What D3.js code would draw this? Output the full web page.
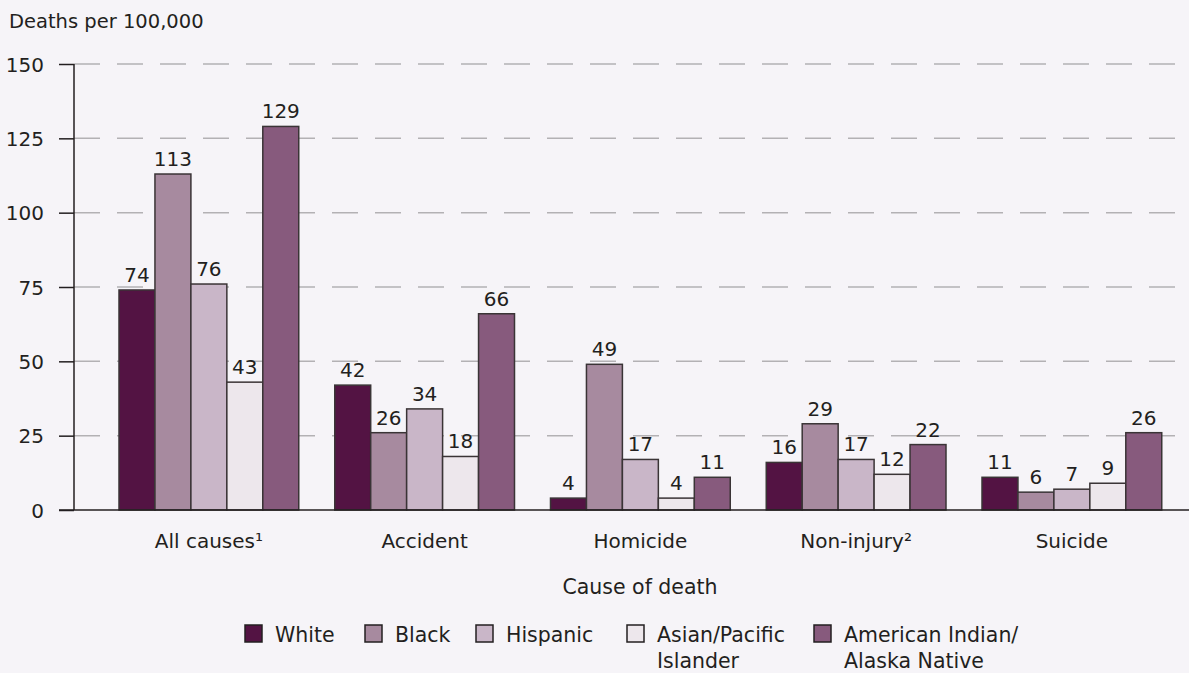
<!DOCTYPE html>
<html>
<head>
<meta charset="utf-8">
<script src="https://cdn.jsdelivr.net/npm/d3@7"></script>
<style>
  html, body { margin: 0; padding: 0; background: #f6f4f8; }
  svg { display: block; font-family: "DejaVu Sans", sans-serif; }
</style>
</head>
<body>
<svg id="chart" width="1189" height="673"></svg>
<script>
const categories = ["All causes\u00B9", "Accident", "Homicide", "Non-injury\u00B2", "Suicide"];
const seriesNames = ["White", "Black", "Hispanic", "Asian/Pacific Islander", "American Indian/Alaska Native"];
const legendLines = [["White"], ["Black"], ["Hispanic"], ["Asian/Pacific", "Islander"], ["American Indian/", "Alaska Native"]];
const white    = [74, 42, 4, 16, 11];
const black    = [113, 26, 49, 29, 6];
const hispanic = [76, 34, 17, 17, 7];
const asianPI  = [43, 18, 4, 12, 9];
const aian     = [129, 66, 11, 22, 26];
const yTicks = [0, 25, 50, 75, 100, 125, 150];
const colors = ["#531343", "#a78a9f", "#c9b6c8", "#ede7ec", "#875a7d"];

const series = [white, black, hispanic, asianPI, aian];

const svg = d3.select("#chart");
const W = 1189;
const axisX = 74;

const y = d3.scaleLinear().domain([0, 150]).range([510, 64]);
const pi = 36 / 215.75;
const x0 = d3.scaleBand().domain(categories).range([101, 101 + 5 * 215.75]).paddingInner(pi).paddingOuter(pi / 2);
const x1 = d3.scaleBand().domain(d3.range(series.length)).range([0, x0.bandwidth()]);

// gridlines
svg.append("g").selectAll("line").data(yTicks.filter(d => d > 0)).join("line")
  .attr("x1", axisX).attr("x2", W)
  .attr("y1", d => y(d)).attr("y2", d => y(d))
  .attr("stroke", "#b3b1b4").attr("stroke-width", 1.5)
  .attr("stroke-dasharray", "26,17");

// y axis
const yAxis = d3.axisLeft(y).tickValues(yTicks).tickSize(15).tickPadding(15);
const gy = svg.append("g").attr("transform", `translate(${axisX},0)`).call(yAxis);
gy.select(".domain").attr("stroke", "#231f20").attr("stroke-width", 1.5).attr("d", `M0,${y(150)}V${y(0)}`);
gy.selectAll(".tick line").attr("stroke", "#231f20").attr("stroke-width", 1.5);
gy.selectAll(".tick text").attr("font-size", 20).attr("fill", "#231f20")
  .attr("font-family", "DejaVu Sans, sans-serif").attr("dy", "0.35em");

// bars
const groups = svg.append("g").selectAll("g").data(categories).join("g")
  .attr("transform", d => `translate(${x0(d)},0)`);

groups.selectAll("rect").data((c, ci) => series.map((s, si) => ({ si, v: s[ci] }))).join("rect")
  .attr("x", d => x1(d.si)).attr("width", x1.bandwidth())
  .attr("y", d => y(d.v)).attr("height", d => y(0) - y(d.v))
  .attr("fill", d => colors[d.si]).attr("stroke", "#3a3436").attr("stroke-width", 1.5);

groups.selectAll("text.val").data((c, ci) => series.map((s, si) => ({ si, v: s[ci] }))).join("text")
  .attr("class", "val")
  .attr("x", d => x1(d.si) + x1.bandwidth() / 2).attr("y", d => y(d.v) - 8)
  .attr("text-anchor", "middle").attr("font-size", 20).attr("fill", "#231f20")
  .text(d => d.v);

// baseline
svg.append("line").attr("x1", 59).attr("x2", W).attr("y1", y(0)).attr("y2", y(0))
  .attr("stroke", "#231f20").attr("stroke-width", 1.5);

// category labels
svg.append("g").selectAll("text").data(categories).join("text")
  .attr("x", d => x0(d) + x0.bandwidth() / 2).attr("y", 548)
  .attr("text-anchor", "middle").attr("font-size", 20).attr("fill", "#231f20")
  .text(d => d);

// axis titles
svg.append("text").attr("x", 9).attr("y", 28).attr("font-size", 19.5).attr("fill", "#231f20")
  .text("Deaths per 100,000");
svg.append("text").attr("x", 640).attr("y", 594).attr("text-anchor", "middle")
  .attr("font-size", 20.5).attr("fill", "#231f20").text("Cause of death");

// legend
const legendX = [245, 365, 476, 627, 814];
const lg = svg.append("g").selectAll("g").data(seriesNames).join("g")
  .attr("transform", (d, i) => `translate(${legendX[i]},625)`);
lg.append("rect").attr("width", 17).attr("height", 17)
  .attr("fill", (d, i) => colors[i]).attr("stroke", "#231f20").attr("stroke-width", 1.5);
lg.each(function(d, i) {
  const t = d3.select(this).append("text").attr("x", 30).attr("y", 17)
    .attr("font-size", 20.5).attr("fill", "#231f20");
  legendLines[i].forEach((line, li) => {
    t.append("tspan").attr("x", 30).attr("dy", li === 0 ? 0 : 26).text(line);
  });
});
</script>
</body>
</html>
